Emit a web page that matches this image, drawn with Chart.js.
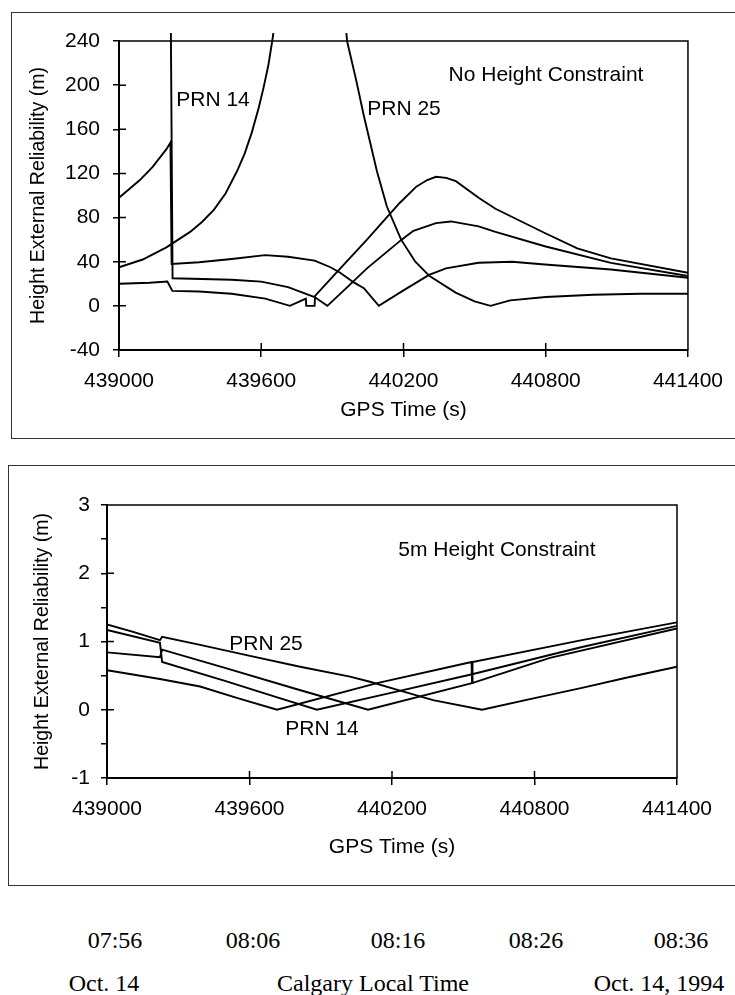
<!DOCTYPE html>
<html>
<head>
<meta charset="utf-8">
<script src="https://cdn.jsdelivr.net/npm/chart.js@4.4.0/dist/chart.umd.min.js"></script>
<style>
  body { margin: 0; background: #fff; width: 735px; height: 995px; overflow: hidden; position: relative;
         font-family: "Liberation Sans", Arial, sans-serif; }
  .panel { position: absolute; border: 1.5px solid #333; }
  canvas { position: absolute; left: 0; }
  .note { position: absolute; font-size: 21px; line-height: 1; white-space: nowrap; transform: translate(-50%, -50%); }
  .serif { position: absolute; font-family: "Liberation Serif", "Times New Roman", serif; font-size: 24px;
           line-height: 1; white-space: nowrap; transform: translate(-50%, -50%); }
</style>
</head>
<body>
<div class="panel" style="left:11px;top:12px;width:760px;height:425px;"></div>
<div class="panel" style="left:8px;top:465px;width:760px;height:419px;"></div>
<canvas id="topChart" width="735" height="440" style="top:0"></canvas>
<canvas id="bottomChart" width="735" height="430" style="top:460px"></canvas>

<div class="note" style="left:546px;top:73px">No Height Constraint</div>
<div class="note" style="left:213px;top:98px">PRN 14</div>
<div class="note" style="left:404px;top:107px">PRN 25</div>
<div class="note" style="left:497px;top:548px">5m Height Constraint</div>
<div class="note" style="left:266px;top:642px">PRN 25</div>
<div class="note" style="left:322px;top:727px">PRN 14</div>
<div id="localTimes"></div>

<script>
// GPS time axis
const gpsMin = 439000;
const gpsMax = 441400;
const gpsStep = 600;

// local time labels under the GPS ticks
const localTimeLabels = ['07:56', '08:06', '08:16', '08:26', '08:36'];
const localTimeX = [115, 253, 398, 536, 681];
const dateLabels = ['Oct. 14', 'Calgary Local Time', 'Oct. 14, 1994'];
const dateX = [104, 373, 659];

// ---- top chart: no height constraint (m) ----
const topT1 = [439000, 439088, 439142, 439200, 439217, 439222, 439338, 439475, 439617, 439713, 439825, 439892, 439933, 439992, 440033, 440096, 440200, 440308, 440379, 440517, 440658, 440796, 441075, 441400];
const topH1 = [98, 114, 126, 142, 148, 38, 39.5, 42.5, 46, 44.5, 41, 35, 30, 21, 16, 0, 14, 28, 34, 39, 40, 37.5, 33, 25.5];

const topT2 = [439000, 439100, 439200, 439300, 439350, 439400, 439450, 439500, 439530, 439560, 439590, 439610, 439630, 439650, 439680, 439800, 439930, 439962, 440000, 440033, 440088, 440130, 440190, 440250, 440310, 440420, 440500, 440567, 440650, 440800, 441000, 441200, 441400];
const topH2 = [35, 42, 53, 67, 76, 87, 102, 123, 138, 157, 180, 198, 218, 245, 320, null, 320, 240, 205, 172, 122, 90, 60, 40, 27, 12, 4, 0, 5, 8, 10, 11, 11];

const topT3 = [439214, 439226, 439475, 439600, 439713, 439825, 439879, 439963, 440046, 440192, 440242, 440337, 440400, 440517, 440588, 440796, 441075, 441400];
const topH3 = [400, 25, 23.6, 22, 17, 8, 0, 17, 34, 60, 68, 75, 76.5, 72, 67, 54, 39, 27];

const topT4 = [439000, 439129, 439204, 439225, 439338, 439475, 439617, 439721, 439767, 439788, 439790, 439825, 439827, 439921, 440046, 440183, 440254, 440300, 440337, 440380, 440421, 440517, 440588, 440796, 440933, 441075, 441400];
const topH4 = [20, 21, 22, 13.6, 13, 11, 6.5, 0, 4.5, 6.5, 0, 0, 9, 31, 60, 93, 108, 114, 117, 116, 113, 98, 88, 66, 52, 43, 30];

// ---- bottom chart: 5 m height constraint (m) ----
const botT1 = [439000, 439110, 439223, 439232, 439392, 439602, 439813, 440023, 440107, 440234, 440373, 440579, 440800, 441000, 441200, 441400];
const botH1 = [1.25, 1.14, 1.02, 1.07, 0.95, 0.79, 0.63, 0.485, 0.41, 0.28, 0.14, 0, 0.17, 0.32, 0.48, 0.63];

const botT2 = [439000, 439223, 439232, 439500, 439700, 439884, 440200, 440537, 441000, 441400];
const botH2 = [1.17, 0.98, 0.70, 0.42, 0.20, 0, 0.25, 0.52, 0.92, 1.23];

const botT3 = [439000, 439223, 439232, 439500, 439800, 440099, 440537, 440865, 441400];
const botH3 = [0.84, 0.77, 0.88, 0.61, 0.30, 0, 0.39, 0.76, 1.19];

const botT4 = [439000, 439223, 439392, 439550, 439716, 440137, 440535, 440537, 440539, 441000, 441400];
const botH4 = [0.58, 0.45, 0.34, 0.17, 0, 0.39, 0.70, 0.39, 0.70, 1.02, 1.28];

const topSeries = [[topT1, topH1], [topT2, topH2], [topT3, topH3], [topT4, topH4]];
const botSeries = [[botT1, botH1], [botT2, botH2], [botT3, botH3], [botT4, botH4]];

// HTML labels for local time rows
const holder = document.getElementById('localTimes');
localTimeLabels.forEach((txt, i) => {
  const d = document.createElement('div');
  d.className = 'serif';
  d.style.left = localTimeX[i] + 'px';
  d.style.top = '940px';
  d.textContent = txt;
  holder.appendChild(d);
});
dateLabels.forEach((txt, i) => {
  const d = document.createElement('div');
  d.className = 'serif';
  d.style.left = dateX[i] + 'px';
  d.style.top = '983px';
  d.textContent = txt;
  holder.appendChild(d);
});

Chart.defaults.font.family = '"Liberation Sans", Arial, sans-serif';
Chart.defaults.font.size = 21;
Chart.defaults.color = '#000';

// top/right frame of the plot + inward tick marks
const framePlugin = {
  id: 'frame',
  afterDraw(chart) {
    const { ctx, chartArea: a, scales } = chart;
    ctx.save();
    ctx.strokeStyle = '#000';
    ctx.lineWidth = 1.5;
    ctx.beginPath();
    ctx.moveTo(a.left, a.top);
    ctx.lineTo(a.right, a.top);
    ctx.lineTo(a.right, a.bottom);
    scales.x.ticks.forEach(t => {
      const px = scales.x.getPixelForValue(t.value);
      ctx.moveTo(px, a.bottom);
      ctx.lineTo(px, a.bottom - 7);
    });
    scales.y.ticks.forEach(t => {
      if (t.label === '') return;
      const py = scales.y.getPixelForValue(t.value);
      ctx.moveTo(a.left, py);
      ctx.lineTo(a.left + 7, py);
    });
    ctx.stroke();
    ctx.restore();
  }
};

function makeChart(id, series, opt) {
  const datasets = series.map(([ts, hs]) => ({
    data: ts.map((t, i) => ({ x: t, y: hs[i] })),
    borderColor: '#000',
    borderWidth: 1.9,
    pointRadius: 0,
    tension: 0,
    fill: false,
    spanGaps: false,
    clip: { left: 0, top: 8, right: 0, bottom: 0 }
  }));

  return new Chart(document.getElementById(id), {
    type: 'line',
    data: { datasets },
    options: {
      responsive: false,
      animation: false,
      layout: { padding: opt.padding },
      plugins: { legend: { display: false }, tooltip: { enabled: false } },
      scales: {
        x: {
          type: 'linear',
          min: gpsMin,
          max: gpsMax,
          afterFit: s => { s.height = opt.xHeight; },
          ticks: { stepSize: gpsStep, padding: opt.xPad, maxRotation: 0, callback: v => String(v) },
          grid: { drawOnChartArea: false, drawTicks: true, tickLength: 7, color: '#000', lineWidth: 1.5 },
          border: { display: true, color: '#000', width: 2 },
          title: { display: true, text: 'GPS Time (s)', font: { size: 21 }, padding: { top: 0, bottom: opt.xTitlePad } }
        },
        y: {
          min: opt.yMin,
          max: opt.yMax,
          afterFit: s => { s.width = opt.yWidth; },
          ticks: { stepSize: opt.yStep, padding: opt.yPad, callback: opt.yLabel },
          grid: { drawOnChartArea: false, drawTicks: true, tickLength: 6, color: '#000', lineWidth: 1.5 },
          border: { display: true, color: '#000', width: 2 },
          title: { display: true, text: 'Height External Reliability (m)', font: { size: 19.5 }, padding: { top: opt.yTitlePad, bottom: 0 } }
        }
      }
    },
    plugins: [framePlugin]
  });
}

makeChart('topChart', topSeries, {
  padding: { top: 41, right: 40, left: 0, bottom: 0 },
  xHeight: 90, yWidth: 119,
  xPad: 12, yPad: 13, xTitlePad: 17, yTitlePad: 27,
  yMin: -40, yMax: 240, yStep: 20,
  yLabel: v => (v % 40 === 0 ? String(v) : '')
});

makeChart('bottomChart', botSeries, {
  padding: { top: 45, right: 58, left: 0, bottom: 0 },
  xHeight: 112, yWidth: 107,
  xPad: 12, yPad: 11, xTitlePad: 30, yTitlePad: 31,
  yMin: -1, yMax: 3, yStep: 0.5,
  yLabel: v => (Number.isInteger(v) ? String(v) : '')
});
</script>
</body>
</html>
